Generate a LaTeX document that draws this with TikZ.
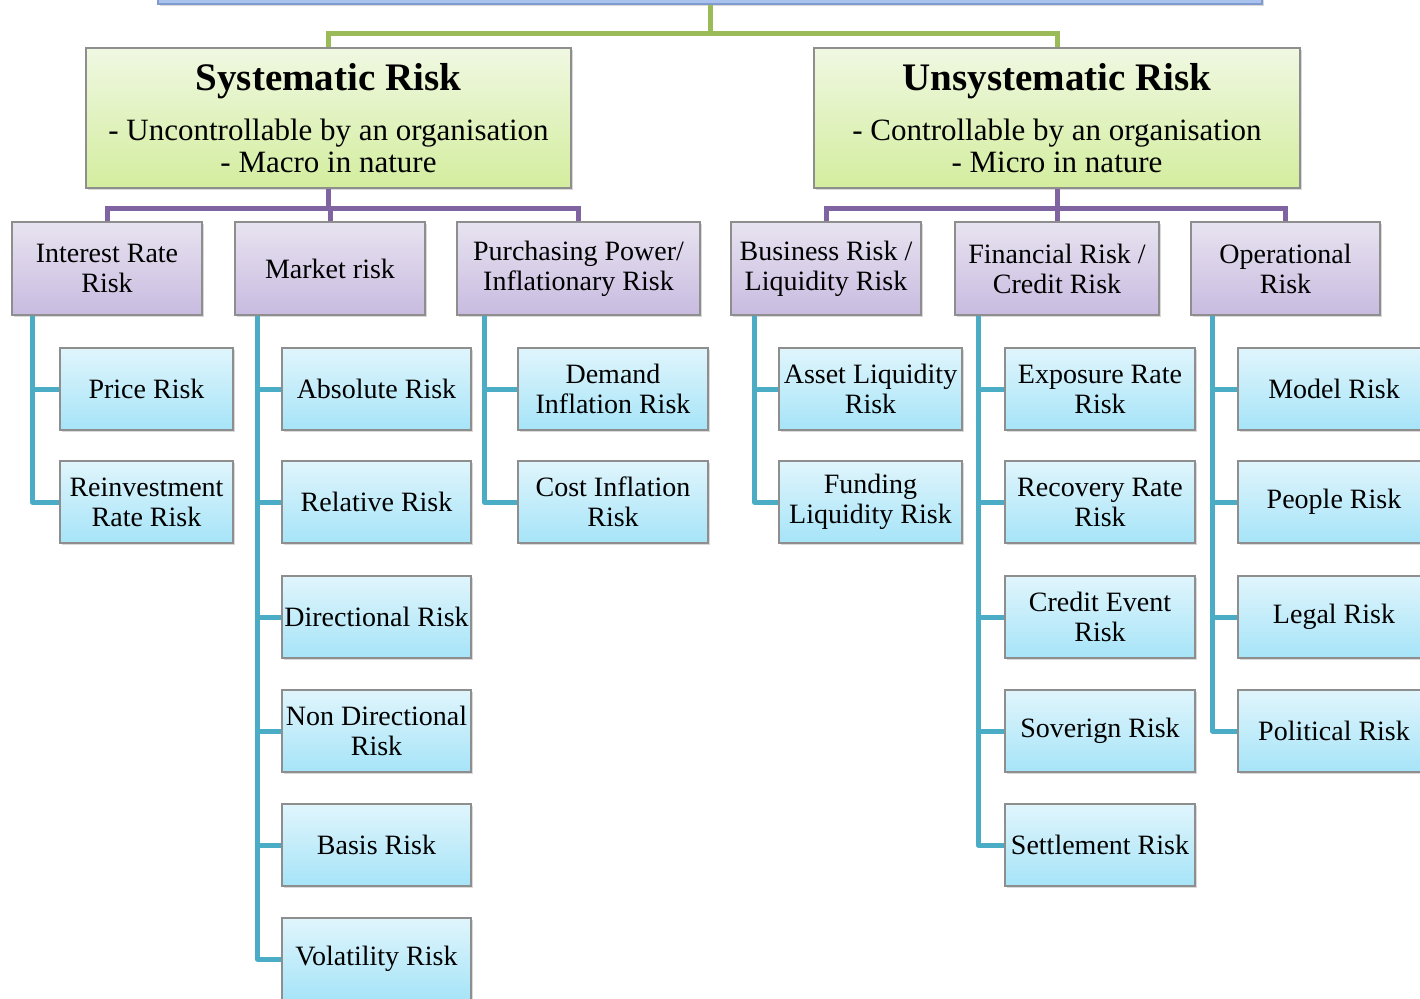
\documentclass[tikz,border=0pt]{standalone}
\usepackage{fontspec}
\setmainfont{Liberation Serif}
\usetikzlibrary{positioning, calc, shadows}

\definecolor{linegreen}{HTML}{9BBB59}
\definecolor{linepurple}{HTML}{8064A2}
\definecolor{lineteal}{HTML}{4BACC6}
\definecolor{boxedge}{HTML}{8E8E8E}
\definecolor{rootedge}{HTML}{7F9BD0}
\definecolor{rootfill}{HTML}{A9C3EE}
\definecolor{maintop}{HTML}{F0F8E2}
\definecolor{mainbot}{HTML}{D3ED9E}
\definecolor{grouptop}{HTML}{E8E3F0}
\definecolor{groupbot}{HTML}{C8BBE0}
\definecolor{leaftop}{HTML}{E0F5FC}
\definecolor{leafbot}{HTML}{A6E4F8}

\tikzset{
  riskbox/.style={draw=boxedge, line width=1.5pt, align=center, inner sep=1pt,
    drop shadow={shadow xshift=2pt, shadow yshift=-2pt, opacity=0.3},
    font=\fontsize{28}{30}\selectfont},
  topbox/.style={draw=rootedge, line width=1.5pt, fill=rootfill,
    minimum width=1104pt, minimum height=32pt,
    drop shadow={shadow xshift=2pt, shadow yshift=-2pt, opacity=0.3}},
  mainbox/.style={riskbox, top color=maintop, bottom color=mainbot,
    minimum height=140pt, font=\fontsize{31}{32}\selectfont},
  groupbox/.style={riskbox, top color=grouptop, bottom color=groupbot,
    minimum height=93pt},
  leafbox/.style={riskbox, top color=leaftop, bottom color=leafbot,
    minimum height=82pt},
  greenline/.style={draw=linegreen, line width=5pt},
  purpleline/.style={draw=linepurple, line width=5pt},
  tealline/.style={draw=lineteal, line width=5pt, line join=round},
}
\newcommand{\headfont}{\fontsize{39}{40}\selectfont\bfseries}

\begin{document}
\begin{tikzpicture}[x=1pt, y=-1pt]
	\useasboundingbox (0,0) rectangle (1420,998);
	\clip (0,0) rectangle (1420,998);
	% root, cut by the frame
	\node[topbox] (root) at (710,-12) {};
	% the two kinds of risk
	\node[mainbox, minimum width=485pt] (sys) at (328.5,118) {{\headfont Systematic Risk}\\[18pt] - Uncontrollable by an organisation\\ - Macro in nature};
	\node[mainbox, minimum width=486pt] (unsys) at (1057,118) {{\headfont Unsystematic Risk}\\[18pt] - Controllable by an organisation\\ - Micro in nature};
	% groups
	\node[groupbox, minimum width=190pt] (intr) at (107,268.5) {Interest Rate\\Risk};
	\node[groupbox, minimum width=190pt] (mkt) at (330,268.5) {Market risk};
	\node[groupbox, minimum width=243pt] (ppow) at (578.5,268.5) {Purchasing Power/\\Inflationary Risk};
	\node[groupbox, minimum width=190pt] (bus) at (826,268.5) {Business Risk /\\Liquidity Risk};
	\node[groupbox, minimum width=204pt] (fin) at (1057,268.5) {Financial Risk /\\Credit Risk};
	\node[groupbox, minimum width=189pt] (oper) at (1285.5,268.5) {Operational\\Risk};
	% leaves
	\node[leafbox, minimum width=173pt] (price) at (146.5,389) {Price Risk};
	\node[leafbox, minimum width=173pt] (reinv) at (146.5,502) {Reinvestment\\Rate Risk};
	\node[leafbox, minimum width=189pt] (abs) at (376.5,389) {Absolute Risk};
	\node[leafbox, minimum width=189pt] (rel) at (376.5,502) {Relative Risk};
	\node[leafbox, minimum width=189pt] (dir) at (376.5,617) {Directional Risk};
	\node[leafbox, minimum width=189pt] (nondir) at (376.5,731) {Non Directional\\Risk};
	\node[leafbox, minimum width=189pt] (basis) at (376.5,845) {Basis Risk};
	\node[leafbox, minimum width=189pt] (vol) at (376.5,959) {Volatility Risk};
	\node[leafbox, minimum width=190pt] (demand) at (613,389) {Demand\\Inflation Risk};
	\node[leafbox, minimum width=190pt] (cost) at (613,502) {Cost Inflation\\Risk};
	\node[leafbox, minimum width=183pt] (asset) at (870.5,389) {Asset Liquidity\\Risk};
	\node[leafbox, minimum width=183pt] (fund) at (870.5,502) {Funding\\Liquidity Risk};
	\node[leafbox, minimum width=190pt] (expo) at (1100,389) {Exposure Rate\\Risk};
	\node[leafbox, minimum width=190pt] (recov) at (1100,502) {Recovery Rate\\Risk};
	\node[leafbox, minimum width=190pt] (event) at (1100,617) {Credit Event\\Risk};
	\node[leafbox, minimum width=190pt] (sov) at (1100,731) {Soverign Risk};
	\node[leafbox, minimum width=190pt] (settle) at (1100,845) {Settlement Risk};
	\node[leafbox, minimum width=192pt] (model) at (1334,389) {Model Risk};
	\node[leafbox, minimum width=192pt] (people) at (1334,502) {People Risk};
	\node[leafbox, minimum width=192pt] (legal) at (1334,617) {Legal Risk};
	\node[leafbox, minimum width=192pt] (polit) at (1334,731) {Political Risk};
	% connectors
	\draw[greenline] (root.south) -- ++(0,29) -| (sys.north);
	\draw[greenline] (root.south) -- ++(0,29) -| (unsys.north);
	\foreach \grp in {intr,mkt,ppow}
		\draw[purpleline] (sys.south) -- ++(0,20) -| (\grp.north);
	\foreach \grp in {bus,fin,oper}
		\draw[purpleline] (unsys.south) -- ++(0,20) -| (\grp.north);
	\foreach \kid in {price,reinv}
		\draw[tealline] ($(intr.south west)+(21,0)$) |- (\kid.west);
	\foreach \kid in {abs,rel,dir,nondir,basis,vol}
		\draw[tealline] ($(mkt.south west)+(23,0)$) |- (\kid.west);
	\foreach \kid in {demand,cost}
		\draw[tealline] ($(ppow.south west)+(28,0)$) |- (\kid.west);
	\foreach \kid in {asset,fund}
		\draw[tealline] ($(bus.south west)+(24,0)$) |- (\kid.west);
	\foreach \kid in {expo,recov,event,sov,settle}
		\draw[tealline] ($(fin.south west)+(24,0)$) |- (\kid.west);
	\foreach \kid in {model,people,legal,polit}
		\draw[tealline] ($(oper.south west)+(22,0)$) |- (\kid.west);
\end{tikzpicture}
\end{document}
